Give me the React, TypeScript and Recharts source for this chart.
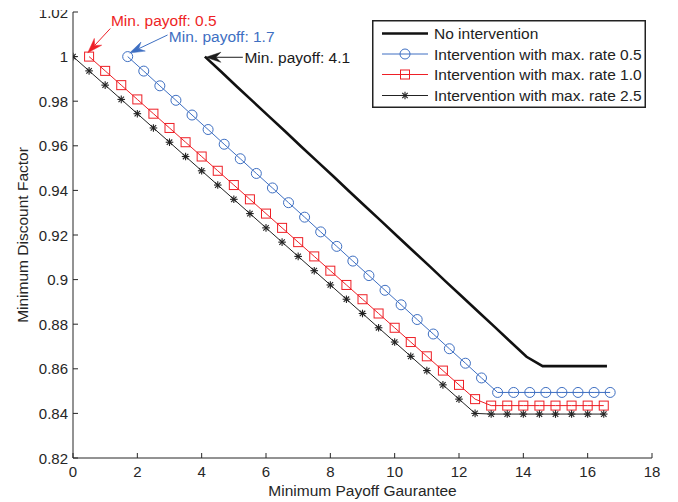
import React from 'react';
import { LineChart, Line, XAxis, YAxis, ReferenceLine, ReferenceDot, Legend, Label } from 'recharts';

const FONT = '"Liberation Sans", Arial, Helvetica, sans-serif';

// ---- axis ticks ----
const xTicks = [0, 2, 4, 6, 8, 10, 12, 14, 16, 18];
const yTicks = [0.82, 0.84, 0.86, 0.88, 0.9, 0.92, 0.94, 0.96, 0.98, 1.0, 1.02];
const yTickLabels = ['0.82', '0.84', '0.86', '0.88', '0.9', '0.92', '0.94', '0.96', '0.98', '1', '1.02'];

// ---- series names ----
const seriesNames = [
  'No intervention',
  'Intervention with max. rate 0.5',
  'Intervention with max. rate 1.0',
  'Intervention with max. rate 2.5',
];

// ---- No intervention ----
const noIntX = [4.1, 4.6, 5.1, 5.6, 6.1, 6.6, 7.1, 7.6, 8.1, 8.6, 9.1, 9.6, 10.1, 10.6, 11.1, 11.6, 12.1, 12.6, 13.1, 13.6, 14.1, 14.6, 15.1, 15.6, 16.1, 16.6];
const noIntY = [1.0, 0.9933, 0.9865, 0.9798, 0.9731, 0.9664, 0.9596, 0.9529, 0.9462, 0.9394, 0.9327, 0.926, 0.9192, 0.9125, 0.9058, 0.899, 0.8923, 0.8856, 0.8789, 0.8721, 0.8654, 0.8612, 0.8612, 0.8612, 0.8612, 0.8612];

// ---- Intervention max rate 0.5 ----
const rate05X = [1.7, 2.2, 2.7, 3.2, 3.7, 4.2, 4.7, 5.2, 5.7, 6.2, 6.7, 7.2, 7.7, 8.2, 8.7, 9.2, 9.7, 10.2, 10.7, 11.2, 11.7, 12.2, 12.7, 13.2, 13.7, 14.2, 14.7, 15.2, 15.7, 16.2, 16.7];
const rate05Y = [1.0, 0.9935, 0.9869, 0.9804, 0.9738, 0.9673, 0.9607, 0.9542, 0.9476, 0.9411, 0.9345, 0.928, 0.9214, 0.9149, 0.9083, 0.9018, 0.8952, 0.8887, 0.8821, 0.8756, 0.869, 0.8625, 0.8559, 0.8494, 0.8494, 0.8494, 0.8494, 0.8494, 0.8494, 0.8494, 0.8494];

// ---- Intervention max rate 1.0 ----
const rate10X = [0.5, 1, 1.5, 2, 2.5, 3, 3.5, 4, 4.5, 5, 5.5, 6, 6.5, 7, 7.5, 8, 8.5, 9, 9.5, 10, 10.5, 11, 11.5, 12, 12.5, 13, 13.5, 14, 14.5, 15, 15.5, 16, 16.5];
const rate10Y = [1.0, 0.9936, 0.9872, 0.9808, 0.9744, 0.968, 0.9616, 0.9552, 0.9488, 0.9424, 0.936, 0.9296, 0.9232, 0.9168, 0.9104, 0.904, 0.8976, 0.8912, 0.8848, 0.8784, 0.872, 0.8656, 0.8592, 0.8528, 0.8464, 0.8435, 0.8435, 0.8435, 0.8435, 0.8435, 0.8435, 0.8435, 0.8435];

// ---- Intervention max rate 2.5 ----
const rate25X = [0, 0.5, 1, 1.5, 2, 2.5, 3, 3.5, 4, 4.5, 5, 5.5, 6, 6.5, 7, 7.5, 8, 8.5, 9, 9.5, 10, 10.5, 11, 11.5, 12, 12.5, 13, 13.5, 14, 14.5, 15, 15.5, 16, 16.5];
const rate25Y = [1.0, 0.9936, 0.9872, 0.9808, 0.9744, 0.968, 0.9616, 0.9552, 0.9488, 0.9424, 0.936, 0.9296, 0.9232, 0.9168, 0.9104, 0.904, 0.8976, 0.8912, 0.8848, 0.8784, 0.872, 0.8656, 0.8592, 0.8528, 0.8464, 0.84, 0.8397, 0.8397, 0.8397, 0.8397, 0.8397, 0.8397, 0.8397, 0.8397];

// ---- annotations (text + arrow, in data units) ----
const annotationTexts = ['Min. payoff: 0.5', 'Min. payoff: 1.7', 'Min. payoff: 4.1'];
const annotationTextPos = [
  { x: 1.18, y: 1.0137 },
  { x: 2.98, y: 1.0067 },
  { x: 5.33, y: 0.997 },
];
const annotationArrows = [
  [{ x: 1.16, y: 1.0126 }, { x: 0.46, y: 1.0017 }],
  [{ x: 2.94, y: 1.0097 }, { x: 1.76, y: 1.0016 }],
  [{ x: 5.28, y: 0.9997 }, { x: 4.13, y: 0.9997 }],
];

const toData = (xs: number[], ys: number[]) => xs.map((x, i) => ({ x, y: ys[i] }));

const noIntData = toData(noIntX, noIntY);
const rate05Data = toData(rate05X, rate05Y);
const rate10Data = toData(rate10X, rate10Y);
const rate25Data = toData(rate25X, rate25Y);

const COLORS = {
  noInt: '#111111',
  r05: '#3e6fc2',
  r10: '#ee1f26',
  r25: '#222222',
};
const annotationColors = ['#ee1f26', '#3e6fc2', '#1a1a1a'];
const AXIS = '#262626';

const XTick = (props: any) => {
  const { x, y, payload } = props;
  return (
    <g>
      <line x1={x} y1={y} x2={x} y2={y - 5} stroke={AXIS} strokeWidth={1} />
      <text x={x} y={y + 18.5} textAnchor="middle" fill={AXIS} fontSize={15} fontFamily={FONT}>
        {payload.value}
      </text>
    </g>
  );
};

const YTick = (props: any) => {
  const { x, y, payload } = props;
  const idx = yTicks.findIndex((v) => Math.abs(v - payload.value) < 1e-9);
  const label = idx >= 0 ? yTickLabels[idx] : String(payload.value);
  return (
    <g>
      <line x1={x} y1={y} x2={x + 5} y2={y} stroke={AXIS} strokeWidth={1} />
      <text x={x - 5} y={y + 5.5} textAnchor="end" fill={AXIS} fontSize={15} fontFamily={FONT}>
        {label}
      </text>
    </g>
  );
};

const CircleDot = (props: any) => {
  const { cx, cy, index } = props;
  if (cx == null || cy == null) return <g key={`c-${index}`} />;
  return <circle key={`c-${index}`} cx={cx} cy={cy} r={5} fill="none" stroke={COLORS.r05} strokeWidth={1} />;
};

const SquareDot = (props: any) => {
  const { cx, cy, index } = props;
  if (cx == null || cy == null) return <g key={`s-${index}`} />;
  return <rect key={`s-${index}`} x={cx - 4.5} y={cy - 4.5} width={9} height={9} fill="none" stroke={COLORS.r10} strokeWidth={1} />;
};

const StarDot = (props: any) => {
  const { cx, cy, index } = props;
  if (cx == null || cy == null) return <g key={`a-${index}`} />;
  const r = 3.8;
  const d = r * 0.72;
  return (
    <g key={`a-${index}`} stroke={COLORS.r25} strokeWidth={1.1}>
      <line x1={cx - r} y1={cy} x2={cx + r} y2={cy} />
      <line x1={cx} y1={cy - r} x2={cx} y2={cy + r} />
      <line x1={cx - d} y1={cy - d} x2={cx + d} y2={cy + d} />
      <line x1={cx - d} y1={cy + d} x2={cx + d} y2={cy - d} />
    </g>
  );
};

const makeArrow = (color: string) => (props: any) => {
  const x1 = Number(props.x1), y1 = Number(props.y1), x2 = Number(props.x2), y2 = Number(props.y2);
  const dx = x2 - x1, dy = y2 - y1;
  const len = Math.hypot(dx, dy) || 1;
  const ux = dx / len, uy = dy / len;
  const nx = -uy, ny = ux;
  const L = 15, W = 5, N = 10;
  const bx = x2 - ux * L, by = y2 - uy * L;
  const d = `M${x2},${y2} L${bx + nx * W},${by + ny * W} L${x2 - ux * N},${y2 - uy * N} L${bx - nx * W},${by - ny * W} Z`;
  return (
    <g>
      <line x1={x1} y1={y1} x2={x2 - ux * N} y2={y2 - uy * N} stroke={color} strokeWidth={1} />
      <path d={d} fill={color} stroke={color} strokeWidth={0.5} />
    </g>
  );
};

const makeText = (text: string, color: string) => (props: any) => (
  <text x={props.cx} y={props.cy} fill={color} fontSize={15.5} fontFamily={FONT}>
    {text}
  </text>
);

const LegendBox = () => {
  const rows = [13.5, 34, 54.5, 75.5];
  return (
    <svg width={274} height={88} style={{ display: 'block' }}>
      <rect x={0.75} y={0.75} width={272.5} height={86.5} fill="#ffffff" stroke="#222" strokeWidth={1.5} />
      {seriesNames.map((name, i) => {
        const cy = rows[i];
        const cx = 33;
        let line = null;
        let marker = null;
        if (i === 0) {
          line = <line x1={10} y1={cy} x2={56} y2={cy} stroke={COLORS.noInt} strokeWidth={2.6} />;
        } else if (i === 1) {
          line = <line x1={10} y1={cy} x2={56} y2={cy} stroke={COLORS.r05} strokeWidth={1} />;
          marker = <circle cx={cx} cy={cy} r={5} fill="none" stroke={COLORS.r05} strokeWidth={1} />;
        } else if (i === 2) {
          line = <line x1={10} y1={cy} x2={56} y2={cy} stroke={COLORS.r10} strokeWidth={1} />;
          marker = <rect x={cx - 4.5} y={cy - 4.5} width={9} height={9} fill="none" stroke={COLORS.r10} strokeWidth={1} />;
        } else {
          line = <line x1={10} y1={cy} x2={56} y2={cy} stroke={COLORS.r25} strokeWidth={1} />;
          marker = <StarDot cx={cx} cy={cy} index={99} />;
        }
        return (
          <g key={name}>
            {line}
            {marker}
            <text x={62} y={cy + 5.5} fill="#222" fontSize={15.5} fontFamily={FONT}>
              {name}
            </text>
          </g>
        );
      })}
    </svg>
  );
};

export default function App() {
  return (
    <div style={{ position: 'absolute', left: 0, top: 0, width: 678, height: 502, background: '#fff' }}>
      <LineChart width={678} height={502} margin={{ top: 12, right: 26, bottom: 14, left: 8 }}>
        <XAxis
          type="number"
          dataKey="x"
          domain={[0, 18]}
          ticks={xTicks}
          allowDataOverflow
          height={30}
          tickSize={0}
          tickMargin={0}
          tickLine={false}
          axisLine={{ stroke: AXIS, strokeWidth: 1 }}
          tick={<XTick />}
          interval={0}
        >
          <Label
            content={(p: any) => {
              const vb = p.viewBox || { x: 73, y: 458, width: 579 };
              return (
                <text x={vb.x + vb.width / 2} y={496} textAnchor="middle" fill={AXIS} fontSize={15.5} fontFamily={FONT}>
                  Minimum Payoff Gaurantee
                </text>
              );
            }}
          />
        </XAxis>
        <YAxis
          type="number"
          dataKey="y"
          domain={[0.82, 1.02]}
          ticks={yTicks}
          allowDataOverflow
          width={65}
          tickSize={0}
          tickMargin={0}
          tickLine={false}
          axisLine={{ stroke: AXIS, strokeWidth: 1 }}
          tick={<YTick />}
          interval={0}
        >
          <Label
            content={(p: any) => {
              const vb = p.viewBox || { y: 12, height: 446 };
              const cy = vb.y + vb.height / 2;
              return (
                <text x={28} y={cy} transform={`rotate(-90, 28, ${cy})`} textAnchor="middle" fill={AXIS} fontSize={15.5} fontFamily={FONT}>
                  Minimum Discount Factor
                </text>
              );
            }}
          />
        </YAxis>
        <Legend
          layout="vertical"
          align="center"
          verticalAlign="middle"
          wrapperStyle={{ left: 372, top: 20, width: 274, height: 88 }}
          content={() => <LegendBox />}
        />
        <Line data={noIntData} dataKey="y" type="linear" stroke={COLORS.noInt} strokeWidth={2.6} dot={false} isAnimationActive={false} name={seriesNames[0]} />
        <Line data={rate05Data} dataKey="y" type="linear" stroke={COLORS.r05} strokeWidth={1} dot={CircleDot} isAnimationActive={false} name={seriesNames[1]} />
        <Line data={rate10Data} dataKey="y" type="linear" stroke={COLORS.r10} strokeWidth={1} dot={SquareDot} isAnimationActive={false} name={seriesNames[2]} />
        <Line data={rate25Data} dataKey="y" type="linear" stroke={COLORS.r25} strokeWidth={1} dot={StarDot} isAnimationActive={false} name={seriesNames[3]} />
        {annotationArrows.map((seg, i) => (
          <ReferenceLine key={`arr-${i}`} segment={seg} ifOverflow="visible" shape={makeArrow(annotationColors[i])} />
        ))}
        {annotationTexts.map((t, i) => (
          <ReferenceDot
            key={`txt-${i}`}
            x={annotationTextPos[i].x}
            y={annotationTextPos[i].y}
            ifOverflow="visible"
            shape={makeText(t, annotationColors[i])}
          />
        ))}
      </LineChart>
      <div style={{ position: 'absolute', left: 0, top: 0, width: 72, height: 10, background: '#fff' }} />
    </div>
  );
}
